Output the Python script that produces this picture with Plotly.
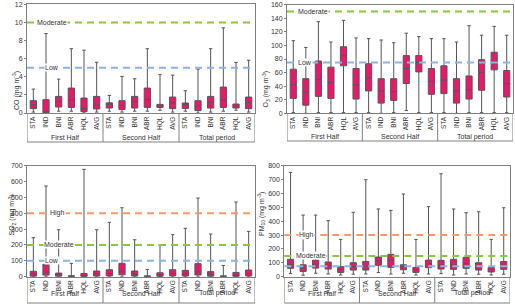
import plotly.graph_objects as go

# ---------------- data ----------------
groups = ["First Half", "Second Half", "Total period"]
cats = ["STA", "IND", "BNI", "ABR", "HQL", "AVG"]

# CO (mg m-3)
co_min = [0.1, 0.0, 0.2, 0.2, 0.0, 0.1,  0.2, 0.1, 0.2, 0.2, 0.3, 0.1,  0.2, 0.0, 0.1, 0.2, 0.3, 0.1]
co_q1 = [0.48, 0.02, 0.66, 0.62, 0.15, 0.44,  0.55, 0.40, 0.55, 0.62, 0.62, 0.48,  0.51, 0.26, 0.55, 0.62, 0.55, 0.48]
co_med = [0.92, 0.05, 1.28, 1.47, 0.48, 0.88,  0.95, 0.84, 1.28, 1.47, 0.80, 1.10,  0.92, 0.80, 1.20, 1.47, 0.80, 1.14]
co_q3 = [1.36, 1.47, 1.83, 2.75, 1.65, 1.83,  1.12, 1.36, 1.83, 2.75, 0.95, 1.76,  1.10, 1.36, 1.83, 2.86, 0.99, 1.76]
co_max = [2.64, 8.77, 3.74, 7.10, 6.94, 5.60,  1.94, 4.04, 3.78, 7.10, 4.26, 4.18,  2.46, 4.84, 7.10, 9.40, 5.58, 5.83]

# O3 (mg m-3)
o3_min = [1, 0, 1, 1, 1, 1,  1, 0, 1, 4, 1, 1,  1, 0, 1, 1, 1, 1]
o3_q1 = [22, 12, 25, 22, 70, 21,  33, 15, 19, 44, 61, 28,  29, 15, 21, 34, 64, 24]
o3_med = [42, 31, 50, 45, 85, 42,  52, 33, 32, 66, 75, 47,  49, 33, 35, 60, 76, 44]
o3_q3 = [65, 51, 77, 68, 98, 66,  73, 51, 51, 85, 85, 66,  70, 51, 55, 79, 90, 63]
o3_max = [107, 97, 135, 105, 137, 111,  110, 108, 104, 118, 113, 110,  110, 105, 129, 115, 128, 115]

# SO2 (mg m-3)
so2_min = [0] * 18
so2_q1 = [3, 10, 3, 1, 1, 4,  5, 12, 4, 1, 2, 5,  4, 11, 3, 1, 2, 5]
so2_med = [18, 30, 12, 3, 6, 18,  20, 30, 15, 3, 8, 20,  20, 30, 14, 3, 8, 20]
so2_q3 = [34, 78, 23, 6, 20, 36,  44, 84, 36, 5, 25, 44,  40, 82, 32, 5, 27, 42]
so2_max = [246, 572, 296, 84, 677, 296,  343, 435, 233, 46, 200, 265,  305, 496, 269, 71, 471, 286]

# PM10 (mg m-3)
pm_min = [24, 10, 25, 20, 12, 18,  20, 30, 19, 25, 12, 20,  22, 12, 20, 18, 12, 18]
pm_q1 = [60, 38, 62, 55, 31, 48,  48, 82, 67, 50, 31, 65,  55, 53, 60, 48, 34, 53]
pm_med = [89, 62, 91, 82, 53, 74,  77, 113, 120, 72, 53, 94,  84, 84, 94, 72, 53, 82]
pm_q3 = [125, 86, 120, 106, 72, 101,  110, 142, 161, 86, 67, 120,  118, 125, 139, 101, 67, 110]
pm_max = [752, 444, 444, 404, 269, 464,  699, 488, 478, 596, 269, 505,  742, 488, 461, 468, 269, 497]

# reference levels: (label, value, color, label position in category units)
co_refs = [("Moderate", 10, "#8CC63F", 1.5), ("Low", 5, "#8DB4E2", 1.45)]
o3_refs = [("Moderate", 150, "#8CC63F", 1.55), ("Low", 75, "#8DB4E2", 0.95)]
so2_refs = [("High", 400, "#F79A6A", 1.9), ("Moderate", 200, "#8CC63F", 2.05), ("Low", 100, "#8DB4E2", 1.5)]
pm_refs = [("High", 300, "#F79A6A", 1.25), ("Moderate", 150, "#8CC63F", 1.65), ("Low", 75, "#8DB4E2", None)]

# ---------------- layout helpers ----------------
W, H = 515, 304
FONT = "Liberation Sans, Arial, sans-serif"
FS = 7
BOX_FILL = "#E8196B"
FRAME = "#808080"
TXT = "#333333"

n = len(groups) * len(cats)
positions = list(range(n))
ticktext = [c for g in groups for c in cats]

panels = [
    ((co_min, co_q1, co_med, co_q3, co_max), co_refs, "CO (mg m<sup>-3</sup>)", 12, 2,
     (27, 255), (4.3, 113), 142, 137.5, 10, 69),
    ((o3_min, o3_q1, o3_med, o3_q3, o3_max), o3_refs, "O<sub>3</sub> (mg m<sup>-3</sup>)", 160, 20,
     (287, 513), (4.7, 113.3), 141, 137, 266, 69),
    ((so2_min, so2_q1, so2_med, so2_q3, so2_max), so2_refs, "SO<sub>2</sub> (mg m<sup>-3</sup>)", 700, 100,
     (27, 255), (165.7, 276.7), 303, 299.3, 5.5, 238),
    ((pm_min, pm_q1, pm_med, pm_q3, pm_max), pm_refs, "PM<sub>10</sub> (mg m<sup>-3</sup>)", 800, 100,
     (284.3, 510), (165.7, 276.7), 303, 299.3, 261, 238),
]

fig = go.Figure()
layout = dict(
    width=W, height=H, margin=dict(l=0, r=0, t=0, b=0, autoexpand=False),
    paper_bgcolor="white", plot_bgcolor="white", showlegend=False,
    font=dict(family=FONT, size=FS, color=TXT),
)
shapes = []
annotations = []


def px_x(v):
    return v / W


def px_y(v):
    return 1 - v / H


for i, (vals, refs, ytitle, ymax, dtick, xd, yd, fb, gl, tx, ty) in enumerate(panels):
    k = "" if i == 0 else str(i + 1)
    xa, ya = "x" + k, "y" + k
    mn, q1, md, q3, mx = vals
    fig.add_trace(go.Box(
        x=positions, q1=q1, median=md, q3=q3, lowerfence=mn, upperfence=mx,
        xaxis=xa, yaxis=ya, fillcolor=BOX_FILL,
        line=dict(color="#555555", width=1), whiskerwidth=0.55,
        boxpoints=False, hoverinfo="skip",
    ))
    layout["xaxis" + k] = dict(
        domain=[px_x(xd[0]), px_x(xd[1])], anchor=ya, range=[-0.5, n - 0.5],
        tickmode="array", tickvals=positions, ticktext=ticktext, tickangle=-90,
        ticks="", showgrid=False, zeroline=False, showline=True, mirror=True,
        linecolor=FRAME, linewidth=1, tickfont=dict(size=6.5, color=TXT),
        fixedrange=True, automargin=False,
    )
    layout["yaxis" + k] = dict(
        domain=[px_y(yd[1]), px_y(yd[0])], anchor=xa, range=[0, ymax], dtick=dtick,
        ticks="outside", ticklen=2, tickcolor=FRAME, showgrid=False, zeroline=False,
        showline=True, mirror=True, linecolor=FRAME, linewidth=1,
        tickfont=dict(size=FS, color=TXT), fixedrange=True, automargin=False,
    )
    for label, val, color, lx in refs:
        shapes.append(dict(type="line", xref=xa + " domain", yref=ya, x0=0, x1=1, y0=val, y1=val,
                           line=dict(color=color, width=2, dash="7px,5px"), layer="above"))
        if lx is not None:
            annotations.append(dict(text=label, xref=xa, yref=ya, x=lx, y=val, showarrow=False,
                                    bgcolor="white", borderpad=0, font=dict(size=FS, color=TXT)))
    y_top = px_y(yd[1])
    y_bot = px_y(fb)
    for xv in [-0.5, 5.5, 11.5, n - 0.5]:
        shapes.append(dict(type="line", xref=xa, yref="paper", x0=xv, x1=xv, y0=y_bot, y1=y_top,
                           line=dict(color=FRAME, width=1)))
    shapes.append(dict(type="line", xref=xa, yref="paper", x0=-0.5, x1=n - 0.5, y0=y_bot, y1=y_bot,
                       line=dict(color=FRAME, width=1)))
    for gi, g in enumerate(groups):
        annotations.append(dict(text=g, xref=xa, yref="paper", x=gi * len(cats) + (len(cats) - 1) / 2,
                                y=px_y(gl), showarrow=False, font=dict(size=FS, color=TXT)))
    annotations.append(dict(text=ytitle, xref="paper", yref="paper", x=px_x(tx), y=px_y(ty),
                            textangle=-90, showarrow=False, font=dict(size=FS, color=TXT)))

layout["shapes"] = shapes
layout["annotations"] = annotations
fig.update_layout(**layout)
fig.write_html("out.html", config={"displayModeBar": False, "staticPlot": True},
               post_script="document.body.style.margin='0px';")
